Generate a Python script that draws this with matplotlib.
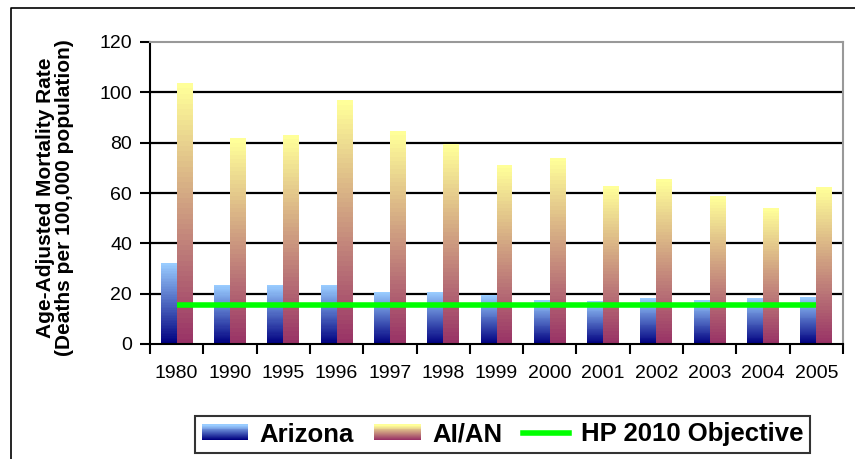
import matplotlib.pyplot as plt
import numpy as np
from matplotlib.legend_handler import HandlerBase
from matplotlib.patches import Rectangle
from matplotlib.lines import Line2D
from matplotlib.colors import to_rgb

plt.rcParams['font.family'] = ['Liberation Sans', 'DejaVu Sans']

# Data
years = ["1980", "1990", "1995", "1996", "1997", "1998", "1999",
         "2000", "2001", "2002", "2003", "2004", "2005"]
arizona = [32.2, 23.4, 23.4, 23.4, 20.7, 20.7, 19.5, 17.5, 17.0, 18.4, 17.5, 18.4, 18.8]
aian = [103.6, 81.7, 83.0, 97.0, 84.6, 79.3, 71.2, 74.0, 62.8, 65.5, 58.8, 54.1, 62.3]
hp2010 = [15.6] * len(years)
yticks = [0, 20, 40, 60, 80, 100, 120]

# gradient colours (top, bottom)
az_top, az_bot = to_rgb("#99CCFF"), to_rgb("#000080")
ai_top, ai_bot = to_rgb("#FFFF99"), to_rgb("#993366")


def gradient(top, bot, n=64):
    t = np.linspace(0, 1, n)[:, None]
    return np.array(bot)[None, :] * (1 - t) + np.array(top)[None, :] * t


fig = plt.figure(figsize=(8.55, 4.59), dpi=100)
ax = fig.add_axes([150 / 855, 1 - 344 / 459, (843 - 150) / 855, (344 - 42) / 459])

x = np.arange(len(years))
xmin, xmax = -0.5, len(years) - 0.5

# horizontal gridlines behind the bars
ax.hlines(yticks[1:-1], xmin, xmax, colors='black', linewidth=1.6, zorder=1)

w = 0.3
nseg = 50
az_cols = gradient(az_top, az_bot, nseg)
ai_cols = gradient(ai_top, ai_bot, nseg)
az_h = np.array(arizona)
ai_h = np.array(aian)
# each bar is stacked from thin slices to get the vertical gradient
for k in range(nseg):
    ax.bar(x - w / 2, az_h / nseg * 1.02, w, bottom=az_h * k / nseg,
           color=az_cols[k], linewidth=0, zorder=2)
    ax.bar(x + w / 2, ai_h / nseg * 1.02, w, bottom=ai_h * k / nseg,
           color=ai_cols[k], linewidth=0, zorder=2)

ax.plot(x, hp2010, color="#00FF00", linewidth=4, solid_capstyle='butt', zorder=3)

ax.set_xlim(xmin, xmax)
ax.set_ylim(0, 120)
ax.set_yticks(yticks)
ax.set_xticks(x)
ax.set_xticklabels(years)
ax.set_xticks(np.arange(-0.5, len(years), 1), minor=True)
ax.tick_params(axis='x', which='major', length=0, pad=15, labelsize=14)
ax.tick_params(axis='x', which='minor', length=7, width=1.5, direction='out')
ax.tick_params(axis='y', length=7, width=1.5, pad=6, labelsize=14)

ax.spines['left'].set_linewidth(1.5)
ax.spines['bottom'].set_linewidth(1.5)
ax.spines['bottom'].set_zorder(4)
ax.spines['top'].set_color('#999999')
ax.spines['right'].set_color('#999999')
ax.spines['top'].set_linewidth(1.5)
ax.spines['right'].set_linewidth(1.5)

fig.text(55 / 855, 1 - 198 / 459,
         "Age-Adjusted Mortality Rate\n(Deaths per 100,000 population)",
         rotation=90, ha='center', va='center', fontsize=15,
         fontweight='bold', linespacing=1.05)


class HandlerGradient(HandlerBase):
    def create_artists(self, legend, orig_handle, xdescent, ydescent,
                       width, height, fontsize, trans):
        top, bot = orig_handle
        n = 16
        cols = gradient(top, bot, n)
        arts = []
        for k in range(n):
            r = Rectangle((-xdescent, -ydescent + height * k / n), width,
                          height / n + 0.3, facecolor=cols[k], edgecolor='none',
                          transform=trans)
            arts.append(r)
        return arts


h_az = (az_top, az_bot)
h_ai = (ai_top, ai_bot)
h_hp = Line2D([], [], color="#00FF00", linewidth=4)
leg = fig.legend([h_az, h_ai, h_hp], ["Arizona", "AI/AN", "HP 2010 Objective"],
                 handler_map={tuple: HandlerGradient()},
                 loc='center', bbox_to_anchor=(502.5 / 855, 1 - 434.5 / 459),
                 ncol=3, frameon=True, fancybox=False, edgecolor='black',
                 prop={'weight': 'bold', 'size': 18.5}, handlelength=1.8,
                 handleheight=0.56, columnspacing=0.8, handletextpad=0.45,
                 borderpad=0.25, borderaxespad=0)
leg.get_frame().set_linewidth(1.5)

# outer chart border (left and top edges)
fig.add_artist(Line2D([11 / 855, 11 / 855, 1.0], [0.0, 1 - 8 / 459, 1 - 8 / 459],
                      transform=fig.transFigure, color='black', linewidth=1.2))

plt.savefig("out.png", dpi=100)
